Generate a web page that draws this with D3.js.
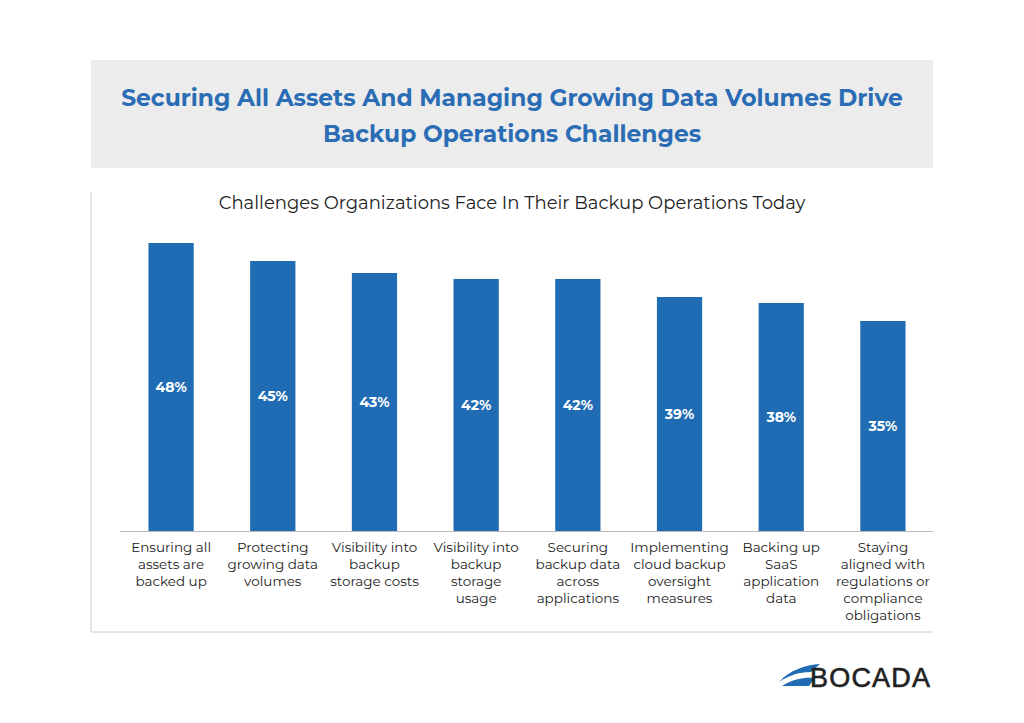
<!DOCTYPE html>
<html><head><meta charset="utf-8">
<script src="https://cdn.jsdelivr.net/npm/d3@7"></script>
<style>body{margin:0;background:#fff}svg{display:block}</style></head>
<body><svg id="c" width="1024" height="723"></svg>
<script>
const categories=[["Ensuring all","assets are","backed up"],["Protecting","growing data","volumes"],["Visibility into","backup","storage costs"],["Visibility into","backup","storage","usage"],["Securing","backup data","across","applications"],["Implementing","cloud backup","oversight","measures"],["Backing up","SaaS","application","data"],["Staying","aligned with","regulations or","compliance","obligations"]];
const values=[48,45,43,42,42,39,38,35];
const titleLines=["Securing All Assets And Managing Growing Data Volumes Drive","Backup Operations Challenges"];
const subtitle="Challenges Organizations Face In Their Backup Operations Today";
const svg=d3.select("#c"),F="Montserrat, 'Open Sans', sans-serif";
svg.append("rect").attr("x",91).attr("y",60).attr("width",842).attr("height",108).attr("fill","#ececec");
titleLines.forEach((t,i)=>svg.append("text").attr("x",512).attr("y",106+i*36).attr("text-anchor","middle")
 .attr("font-family",F).attr("font-weight",700).attr("font-size",23.4).attr("fill","#2a6db5").text(t));
svg.append("line").attr("x1",91).attr("x2",91).attr("y1",192).attr("y2",632).attr("stroke","#ccc");
svg.append("line").attr("x1",91).attr("x2",933).attr("y1",632).attr("y2",632).attr("stroke","#ccc");
svg.append("text").attr("x",512).attr("y",209).attr("text-anchor","middle").attr("font-family",F)
 .attr("font-size",18).attr("fill","#222").text(subtitle);
const x=d3.scaleBand().domain(d3.range(values.length)).range([120,934]).paddingInner(0.555).paddingOuter(0.28);
const y=d3.scaleLinear().domain([0,48]).range([531,243]);
svg.append("line").attr("x1",120).attr("x2",933).attr("y1",531.5).attr("y2",531.5).attr("stroke","#bbb");
const g=svg.selectAll("g.b").data(values).join("g");
g.append("rect").attr("x",(d,i)=>x(i)).attr("width",x.bandwidth()).attr("y",d=>y(d)).attr("height",d=>y(0)-y(d)).attr("fill","#1f6cb4");
g.append("text").attr("x",(d,i)=>x(i)+x.bandwidth()/2).attr("y",d=>(y(d)+y(0))/2+5).attr("text-anchor","middle")
 .attr("font-family",F).attr("font-weight",700).attr("font-size",14).attr("fill","#fff").text(d=>d+"%");
categories.forEach((ls,i)=>ls.forEach((l,j)=>svg.append("text").attr("x",x(i)+x.bandwidth()/2).attr("y",552+j*17)
 .attr("text-anchor","middle").attr("font-family",F).attr("font-size",13.5).attr("fill","#222").text(l)));
// logo
svg.append("path").attr("d","M779,682 C790,670 805,665 820,664 L811,672 C798,672 788,676 779,682 Z M782,686 C795,678 806,677 815,678 L809,686 Z").attr("fill","#1f6cb4");
svg.append("text").attr("x",810).attr("y",687).attr("font-family","'Liberation Sans',Arial,sans-serif").attr("font-size",27).attr("fill","#222").attr("stroke","#222").attr("stroke-width",0.6).attr("textLength",120).text("BOCADA");
</script></body></html>
